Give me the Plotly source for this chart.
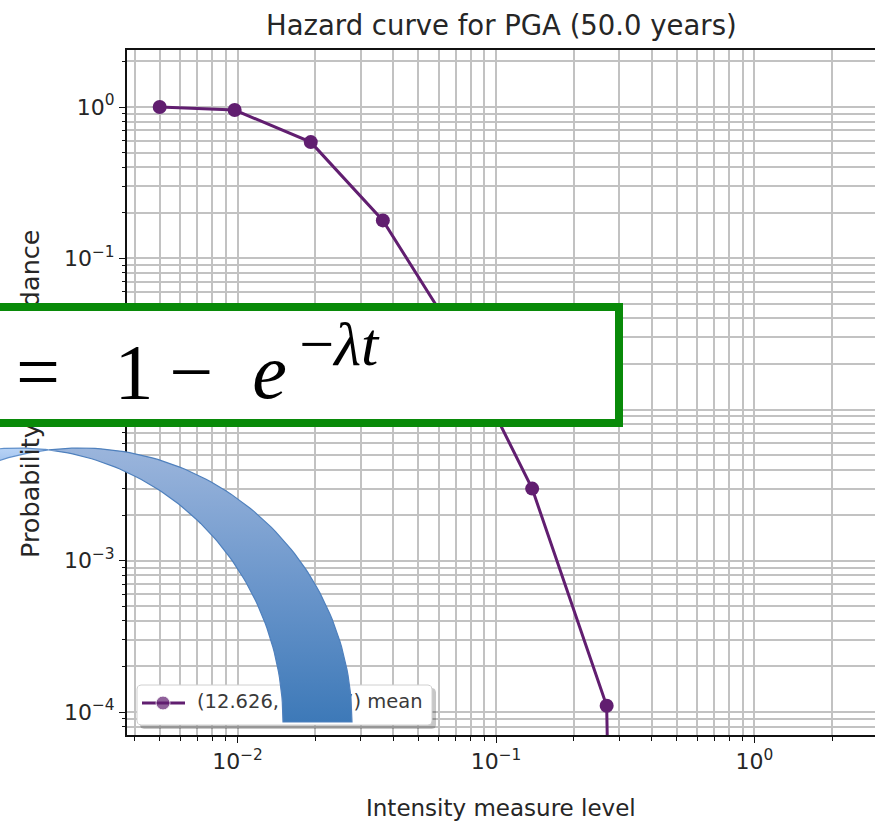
import numpy as np
import plotly.graph_objects as go

W, H = 875, 824

# Mean hazard curve: intensity measure levels (g) and probability of exceedance in 50 years
iml = [0.005, 0.00975, 0.0192, 0.0365, 0.0715, 0.138, 0.268, 0.52]
poe = [1.0, 0.955, 0.586, 0.178, 0.0286, 0.0030, 0.00011, 0.0]

x_tickvals = [0.01, 0.1, 1.0]
x_ticktext = ["10<sup>−2</sup>", "10<sup>−1</sup>", "10<sup>0</sup>"]
y_tickvals = [1e-4, 1e-3, 1e-2, 1e-1, 1.0]
y_ticktext = ["10<sup>−4</sup>", "10<sup>−3</sup>", "10<sup>−2</sup>",
              "10<sup>−1</sup>", "10<sup>0</sup>"]

title_text = "Hazard curve for PGA (50.0 years)"
x_title = "Intensity measure level"
y_title = "Probability of exceedance"
legend_label = "(12.626, 41.877) mean"
formula = ("=\u2002\u20091\u2009−\u2002<i>e</i>"
           "<sup><span style=\"font-size:62px\">\u2009−<i>λt</i></span></sup>")

FONT = "DejaVu Sans"
CURVE = "#611e70"
GRID = "#c2c2c2"

# like matplotlib's log scale, non-positive values are clipped far below the axis
poe_plot = [p if p > 0 else 1e-30 for p in poe]

# figure pixel -> paper fraction
def fx(px):
    return px / W

def fy(py):
    return 1 - py / H

minor_x = [m * 10.0 ** e for e in range(-3, 1) for m in range(2, 10)]
minor_y = [m * 10.0 ** e for e in range(-5, 1) for m in range(2, 10)]

fig = go.Figure()

fig.add_trace(go.Scatter(
    x=iml, y=poe_plot, mode="lines+markers",
    line=dict(color=CURVE, width=3),
    marker=dict(color=CURVE, size=14),
    name=legend_label, showlegend=False, xaxis="x", yaxis="y",
))

# ---- overlay drawn in figure pixel coordinates (x2/y2) ----
def rounded_rect(x0, y0, x1, y1, r, n=6):
    xs, ys = [], []
    corners = [(x1 - r, y0 + r, -90, 0), (x1 - r, y1 - r, 0, 90),
               (x0 + r, y1 - r, 90, 180), (x0 + r, y0 + r, 180, 270)]
    for cx, cy, a0, a1 in corners:
        t = np.radians(np.linspace(a0, a1, n))
        xs += list(cx + r * np.cos(t))
        ys += list(cy + r * np.sin(t))
    xs.append(xs[0]); ys.append(ys[0])
    return xs, ys

# legend frame shadow and frame
sx, sy = rounded_rect(140, 688, 436, 729, 4)
fig.add_trace(go.Scatter(x=sx, y=sy, fill="toself", mode="lines",
                         fillcolor="rgba(0,0,0,0.22)", line=dict(width=0),
                         hoverinfo="skip", showlegend=False, xaxis="x2", yaxis="y2"))
bx, by = rounded_rect(137, 685, 432, 725, 4)
fig.add_trace(go.Scatter(x=bx, y=by, fill="toself", mode="lines",
                         fillcolor="white", line=dict(color="#d0d0d0", width=1),
                         hoverinfo="skip", showlegend=False, xaxis="x2", yaxis="y2"))
# legend handle and label
fig.add_trace(go.Scatter(x=[142, 163, 185], y=[703, 703, 703], mode="lines+markers",
                         line=dict(color=CURVE, width=3),
                         marker=dict(color=CURVE, size=[0, 14, 0]),
                         hoverinfo="skip", showlegend=False, xaxis="x2", yaxis="y2"))
fig.add_trace(go.Scatter(x=[197], y=[703], mode="text", text=[legend_label],
                         textposition="middle right",
                         textfont=dict(family=FONT, size=19.5, color="#3a3a3a"),
                         hoverinfo="skip", showlegend=False, xaxis="x2", yaxis="y2"))

# curved band: region between two elliptical arcs
CY, B = 722, 274
OUT_C, OUT_A = 80, 272
IN_C, IN_A = 18, 265
x_cross = (OUT_A * IN_C + IN_A * OUT_C) / (OUT_A + IN_A)
th_out = np.degrees(np.arccos((x_cross - OUT_C) / OUT_A))
th_in = np.degrees(np.arccos((x_cross - IN_C) / IN_A))

def arc(c, a, t0, t1, n=80):
    t = np.radians(np.linspace(t0, t1, n))
    return list(c + a * np.cos(t)), list(CY - B * np.sin(t))

# back (lighter) part on the left
ox, oy = arc(OUT_C, OUT_A, th_out, 115)
ix, iy = arc(IN_C, IN_A, 102, th_in)
fig.add_trace(go.Scatter(x=ox + ix + [ox[0]], y=oy + iy + [oy[0]], fill="toself", mode="lines",
                         line=dict(color="#5f8fca", width=1.2),
                         fillgradient=dict(type="vertical", start=446, stop=462,
                                           colorscale=[[0, "#bcd6f7"], [1, "#a2c3ee"]]),
                         hoverinfo="skip", showlegend=False, xaxis="x2", yaxis="y2"))
# front part sweeping down to the right
ox, oy = arc(OUT_C, OUT_A, th_out, 0)
ix, iy = arc(IN_C, IN_A, 0, th_in)
fig.add_trace(go.Scatter(x=ox + ix + [ox[0]], y=oy + iy + [oy[0]], fill="toself", mode="lines",
                         line=dict(color="#4f80bd", width=1.2),
                         fillgradient=dict(type="vertical", start=448, stop=722,
                                           colorscale=[[0, "#9bb5dc"], [0.5, "#6b96cb"],
                                                       [1, "#3d79b8"]]),
                         hoverinfo="skip", showlegend=False, xaxis="x2", yaxis="y2"))

axis_common = dict(
    type="log", showline=True, linecolor="#111111", linewidth=2,
    ticks="outside", ticklen=6, tickwidth=1.4, tickcolor="#111111",
    showgrid=True, gridcolor=GRID, gridwidth=1.5, zeroline=False,
    tickfont=dict(family=FONT, size=22, color="#262626"),
    tickmode="array", fixedrange=True,
)
minor_common = dict(tickmode="array", ticks="outside", ticklen=3.5, tickwidth=1.2,
                    tickcolor="#111111", showgrid=True, gridcolor=GRID, gridwidth=1.5)

fig.update_layout(
    width=W, height=H,
    margin=dict(l=0, r=0, t=0, b=0),
    paper_bgcolor="white", plot_bgcolor="rgba(0,0,0,0)",
    showlegend=False,
    xaxis=dict(axis_common, domain=[fx(127), 1], range=[-2.4275, 0.4662],
               tickvals=x_tickvals, ticktext=x_ticktext, mirror=True, anchor="y",
               minor=dict(minor_common, tickvals=minor_x)),
    yaxis=dict(axis_common, domain=[fy(735), fy(50)], range=[-4.152, 0.3769],
               tickvals=y_tickvals, ticktext=y_ticktext, anchor="x",
               minor=dict(minor_common, tickvals=minor_y)),
    xaxis2=dict(domain=[0, 1], range=[0, W], visible=False, anchor="y2", fixedrange=True),
    yaxis2=dict(domain=[0, 1], range=[H, 0], visible=False, anchor="x2", fixedrange=True),
)

annotations = [
    dict(text=title_text, x=fx(501), y=fy(25), font=dict(family=FONT, size=27.5, color="#262626")),
    dict(text=x_title, x=fx(501), y=fy(808), font=dict(family=FONT, size=23, color="#262626")),
    dict(text=y_title, x=fx(30), y=fy(394), textangle=-90,
         font=dict(family=FONT, size=25.5, color="#262626")),
    # equation panel: shadow, frame, formula
    dict(text=" ", x=fx(-36), y=fy(307), xanchor="left", yanchor="top",
         width=647, height=108, borderpad=0, borderwidth=8,
         bgcolor="rgba(0,0,0,0.16)", bordercolor="rgba(0,0,0,0)"),
    dict(text=" ", x=fx(-40), y=fy(303), xanchor="left", yanchor="top",
         width=647, height=108, borderpad=0, borderwidth=8,
         bgcolor="white", bordercolor="#098a09"),
    dict(text=formula, x=fx(14), y=fy(362), xanchor="left", yanchor="middle",
         font=dict(family="Liberation Serif", size=78, color="black")),
]
for a in annotations:
    a.setdefault("xref", "paper")
    a.setdefault("yref", "paper")
    a.setdefault("xanchor", "center")
    a.setdefault("yanchor", "middle")
    a.setdefault("showarrow", False)
    fig.add_annotation(**a)

fig.write_html("out.html")
